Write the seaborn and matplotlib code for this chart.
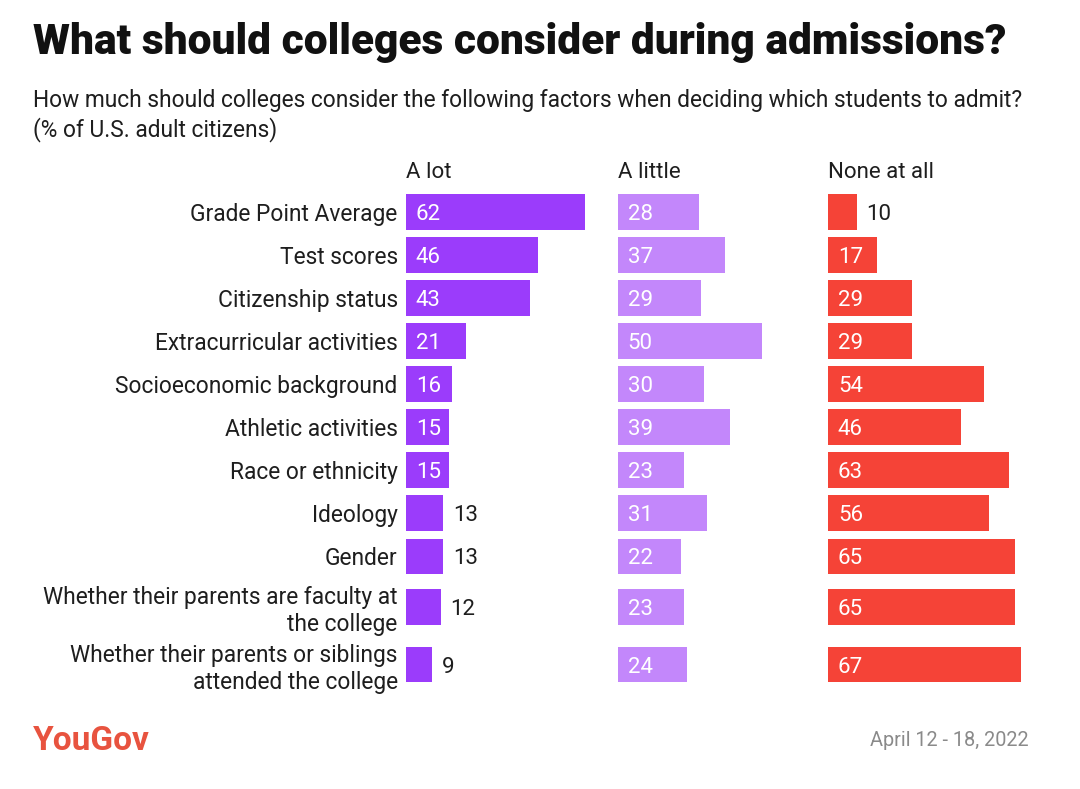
"""
YouGov chart: what colleges should consider during admissions.
"""
import numpy as np
import matplotlib
matplotlib.use("Agg")
import matplotlib.pyplot as plt
import seaborn as sns

# data
categories = [
    "Grade Point Average",
    "Test scores",
    "Citizenship status",
    "Extracurricular activities",
    "Socioeconomic background",
    "Athletic activities",
    "Race or ethnicity",
    "Ideology",
    "Gender",
    "Whether their parents are faculty at\nthe college",
    "Whether their parents or siblings\nattended the college",
]
a_lot = [62, 46, 43, 21, 16, 15, 15, 13, 13, 12, 9]
a_little = [28, 37, 29, 50, 30, 39, 23, 31, 22, 23, 24]
none_at_all = [10, 17, 29, 29, 54, 46, 63, 56, 65, 65, 67]

series_names = ["A lot", "A little", "None at all"]
series_colors = ["#9b3cfb", "#c387fb", "#f54337"]

sns.set_style("white")
plt.rcParams["font.family"] = ["Roboto", "DejaVu Sans"]

TEXT = "#1e1e1e"

# row centres: two-line labels take a bit more room than one-line labels
half = [0.5 if "\n" not in c else 0.67 for c in categories]
positions = [0.0]
for i in range(1, len(categories)):
    positions.append(positions[-1] + half[i - 1] + half[i])

fig = plt.figure(figsize=(10.8, 7.89), dpi=100)

lefts = [0.3759, 0.5722, 0.7667]
bottom, height = 0.1305, 0.6337
XMAX = 72

for k, (name, values, color) in enumerate(zip(series_names, [a_lot, a_little, none_at_all], series_colors)):
    ax = fig.add_axes([lefts[k], bottom, 0.192, height])
    sns.barplot(x=values, y=positions, orient="h", native_scale=True,
                color=color, saturation=1, width=0.83, errorbar=None,
                linewidth=0, ax=ax)
    ax.set_xlim(0, XMAX)
    ax.set_ylim(positions[-1] + 0.5, -0.6)
    sns.despine(ax=ax, left=True, bottom=True)
    ax.set_xticks([])
    ax.set_xlabel("")
    ax.set_ylabel("")
    ax.set_yticks(positions)
    if k == 0:
        ax.set_yticklabels(categories, fontsize=16.4, color=TEXT, ha="right",
                           multialignment="right")
        ax.tick_params(axis="y", length=0, pad=6)
    else:
        ax.set_yticklabels([])
        ax.tick_params(axis="y", length=0)

    for v, p in zip(values, positions):
        if v >= 15:
            ax.text(3.4, p, str(v), color="white", fontsize=16,
                    va="center_baseline", ha="left")
        else:
            ax.text(v + 3.3, p, str(v), color=TEXT, fontsize=16,
                    va="center_baseline", ha="left")

    ax.text(0, 1.028, name, transform=ax.transAxes, fontsize=16, color=TEXT,
            va="center", ha="left")

fig.text(0.0306, 0.946, "What should colleges consider during admissions?",
         fontsize=30.6, fontweight="black", color="#111111", va="center", ha="left")
fig.text(0.0306, 0.873,
         "How much should colleges consider the following factors when deciding which students to admit?",
         fontsize=16.4, color=TEXT, va="center", ha="left")
fig.text(0.0306, 0.836, "(% of U.S. adult citizens)",
         fontsize=16.4, color=TEXT, va="center", ha="left")

fig.text(0.0306, 0.061, "YouGov", fontsize=24, fontweight="bold",
         color="#e8533f", va="center", ha="left")
fig.text(0.952, 0.061, "April 12 - 18, 2022", fontsize=14.3, color="#8a8a8a",
         va="center", ha="right")

fig.savefig("out.png", dpi=100, facecolor="white")
